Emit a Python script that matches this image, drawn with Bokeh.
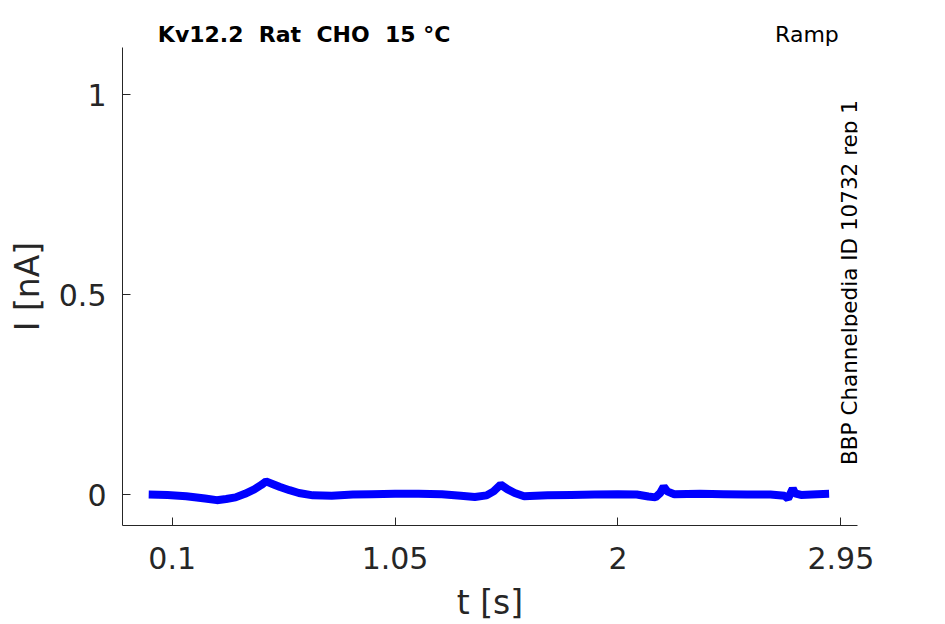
from bokeh.plotting import figure
from bokeh.models import Range1d, FixedTicker, Label
from bokeh.layouts import column
from bokeh.embed import file_html
from bokeh.resources import INLINE
from math import pi

# ---- data ----
t_s = [0.00, 0.08, 0.16, 0.24, 0.29, 0.33, 0.37, 0.41, 0.45, 0.48, 0.50, 0.53,
       0.56, 0.60, 0.64, 0.70, 0.78, 0.87, 0.95, 1.05, 1.15, 1.25, 1.33, 1.39,
       1.44, 1.47, 1.50, 1.53, 1.56, 1.60, 1.70, 1.80, 1.90, 2.00, 2.08, 2.13,
       2.16, 2.18, 2.195, 2.21, 2.24, 2.35, 2.45, 2.55, 2.65, 2.71, 2.725,
       2.735, 2.745, 2.755, 2.78, 2.85, 2.90]
i_nA = [0.000, -0.001, -0.004, -0.010, -0.014, -0.011, -0.007, 0.002, 0.013,
        0.024, 0.033, 0.026, 0.019, 0.011, 0.004, -0.002, -0.003, 0.000, 0.001,
        0.002, 0.002, 0.001, -0.003, -0.006, -0.002, 0.008, 0.025, 0.013, 0.004,
        -0.004, -0.002, -0.001, 0.000, 0.001, 0.000, -0.005, -0.007, 0.004,
        0.020, 0.008, 0.001, 0.002, 0.001, 0.000, 0.000, -0.003, -0.010, 0.002,
        0.015, 0.003, -0.001, 0.001, 0.002]

x_ticks = [0.1, 1.05, 2, 2.95]
x_tick_labels = ["0.1", "1.05", "2", "2.95"]
y_ticks = [0, 0.5, 1]
y_tick_labels = ["0", "0.5", "1"]

x_lim = (-0.1117, 3.021)
y_lim = (-0.0774, 1.1186)

title_text = "Kv12.2 \u00a0Rat \u00a0CHO \u00a015 \u00b0C"
protocol_text = "Ramp"
source_text = "BBP Channelpedia ID 10732 rep 1"

FONT = "DejaVu Sans"
TXT = "#262626"

# ---- header strip (title + protocol), sharing the x scale ----
head = figure(width=945, height=47, output_backend="svg", toolbar_location=None,
              x_range=Range1d(*x_lim), y_range=Range1d(0, 47),
              x_axis_location=None, y_axis_location=None,
              min_border_left=122, min_border_right=88, min_border_top=0,
              min_border_bottom=0)
head.outline_line_color = None
head.xgrid.visible = False
head.ygrid.visible = False
head.add_layout(Label(x=0.0389, y=13, text=title_text, text_font=FONT,
                      text_font_size="22px", text_font_style="bold",
                      text_color="black", text_align="left",
                      text_baseline="middle"))
head.add_layout(Label(x=2.9412, y=13, text=protocol_text, text_font=FONT,
                      text_font_size="22px", text_color="black",
                      text_align="right", text_baseline="middle"))

# ---- main plot ----
p = figure(width=945, height=577, output_backend="svg", toolbar_location=None,
           x_range=head.x_range, y_range=Range1d(*y_lim),
           min_border_left=122, min_border_right=88, min_border_top=0,
           min_border_bottom=98)
p.outline_line_color = None
p.xgrid.visible = False
p.ygrid.visible = False
p.background_fill_color = "white"
p.border_fill_color = "white"

p.line(t_s, i_nA, line_color="#0000ff", line_width=8)

for ax, ticks, labels in ((p.xaxis[0], x_ticks, x_tick_labels),
                          (p.yaxis[0], y_ticks, y_tick_labels)):
    ax.ticker = FixedTicker(ticks=ticks)
    ax.major_label_overrides = {k: v for k, v in zip(ticks, labels)}
    ax.major_tick_in = 8
    ax.major_tick_out = 0
    ax.minor_tick_line_color = None
    ax.axis_line_color = TXT
    ax.major_tick_line_color = TXT
    ax.major_label_text_font = FONT
    ax.major_label_text_font_size = "30px"
    ax.major_label_text_color = TXT
    ax.axis_label_text_font = FONT
    ax.axis_label_text_font_size = "33px"
    ax.axis_label_text_font_style = "normal"
    ax.axis_label_text_color = TXT

p.xaxis.axis_label = "t [s]"
p.yaxis.axis_label = "I [nA]"
p.xaxis.major_label_standoff = 21
p.yaxis.major_label_standoff = 16
p.xaxis.axis_label_standoff = 11
p.yaxis.axis_label_standoff = 9

p.add_layout(Label(x=2.9882, y=0.5306, text=source_text, text_font=FONT,
                   text_font_size="21.5px", text_color="black", angle=pi / 2,
                   text_align="center", text_baseline="alphabetic"))

layout = column(head, p, spacing=0)
open("out.html", "w").write(file_html(layout, INLINE))
